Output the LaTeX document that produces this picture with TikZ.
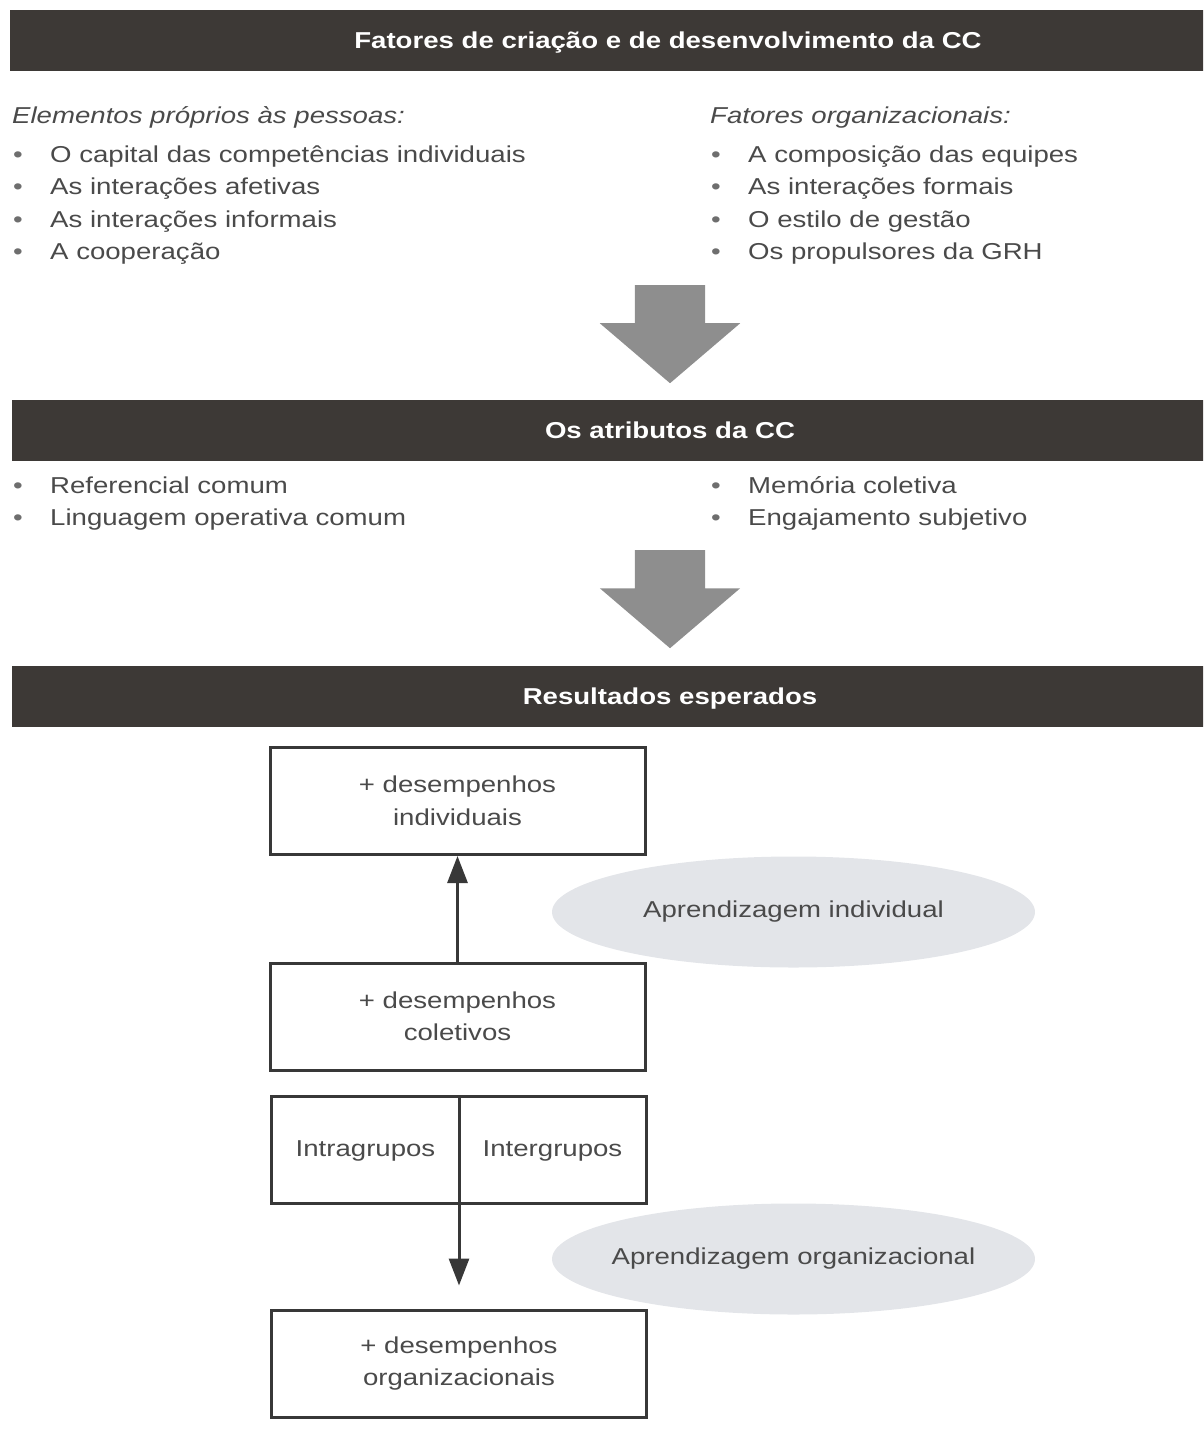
\documentclass[tikz,border=0pt]{standalone}
\usepackage{fontspec}
\setmainfont[FakeStretch=1.2]{Liberation Sans}
\usetikzlibrary{shapes.geometric, shapes.arrows, arrows.meta, positioning}

\definecolor{barcol}{HTML}{3D3936}
\definecolor{txtcol}{HTML}{4A4A4A}
\definecolor{bulcol}{HTML}{6E6E6E}
\definecolor{arrowcol}{HTML}{8E8E8E}
\definecolor{ellfill}{HTML}{E3E5E9}
\definecolor{linecol}{HTML}{383838}

\newcommand{\bul}[1]{\makebox[37pt][l]{\textcolor{bulcol}{\textbullet}}#1}

\begin{document}
\begin{tikzpicture}[
    x=1pt, y=-1pt,
    font=\fontsize{23}{32.5}\selectfont,
    >={Triangle[width=20pt, length=27pt]},
    bar/.style={rectangle, fill=barcol, minimum width=1316pt, minimum height=61pt, inner sep=0pt, text height=16.5pt, text depth=0pt, text=white, font=\fontsize{23}{32.5}\selectfont\bfseries},
    heading/.style={anchor=base west, inner sep=0pt, text=txtcol, font=\fontsize{23}{32.5}\selectfont\itshape},
    item/.style={anchor=base west, inner sep=0pt, text=txtcol},
    bigarrow/.style={single arrow, fill=arrowcol, rotate=-90, anchor=tail, inner xsep=0pt, inner ysep=35pt, minimum height=98pt, single arrow head extend=35pt, single arrow tip angle=99},
    perf/.style={rectangle, draw=linecol, line width=3pt, minimum width=375pt, minimum height=107pt, text=txtcol, align=center},
    learn/.style={ellipse, fill=ellfill, minimum width=483pt, minimum height=111pt, inner sep=0pt, text=txtcol},
    flow/.style={->, draw=linecol, line width=3pt}
]
\clip (0,0) rectangle (1203,1443);

% Fatores
\node[bar] (bar1) at (668, 40) {Fatores de criação e de desenvolvimento da CC};
\node[heading] (pessoas) at (12, 123) {Elementos próprios às pessoas:};
\node[heading] (org) at (710, 123) {Fatores organizacionais:};
\foreach \txt [count=\i] in {O capital das competências individuais, As interações afetivas, As interações informais, A cooperação}
  \node[item] (pl\i) at (13, 162+32.5*\i-32.5) {\bul{\txt}};
\foreach \txt [count=\i] in {A composição das equipes, As interações formais, O estilo de gestão, Os propulsores da GRH}
  \node[item] (ol\i) at (711, 162+32.5*\i-32.5) {\bul{\txt}};

\node[bigarrow] (arr1) at (670, 285) {};

% Atributos
\node[bar] (bar2) at (670, 430) {Os atributos da CC};
\node[item] (at1) at (13, 493) {\bul{Referencial comum}};
\node[item] (at2) at (13, 525.5) {\bul{Linguagem operativa comum}};
\node[item] (at3) at (711, 493) {\bul{Memória coletiva}};
\node[item] (at4) at (711, 525.5) {\bul{Engajamento subjetivo}};

\node[bigarrow] (arr2) at (670, 550) {};

% Resultados
\node[bar] (bar3) at (670, 696) {Resultados esperados};

\node[perf] (indperf) at (457.5, 801) {+ desempenhos\\individuais};
\node[perf] (colperf) at (457.5, 1016.5) {+ desempenhos\\coletivos};
\node[perf] (split) at (459, 1150) {};
\node[text=txtcol] (intra) at (365.5, 1151) {Intragrupos};
\node[text=txtcol] (inter) at (552.5, 1151) {Intergrupos};
\node[perf] (orgperf) at (459, 1363.5) {+ desempenhos\\organizacionais};

\node[learn] (indlearn) at (793.5, 912) {\makebox[0pt]{Aprendizagem individual}};
\node[learn] (orglearn) at (793.5, 1259) {\makebox[0pt]{Aprendizagem organizacional}};

\draw[flow] (colperf.north) -- (indperf.south);
\draw[flow, shorten >=23pt] (split.north) -- (orgperf.north);

\end{tikzpicture}
\end{document}
